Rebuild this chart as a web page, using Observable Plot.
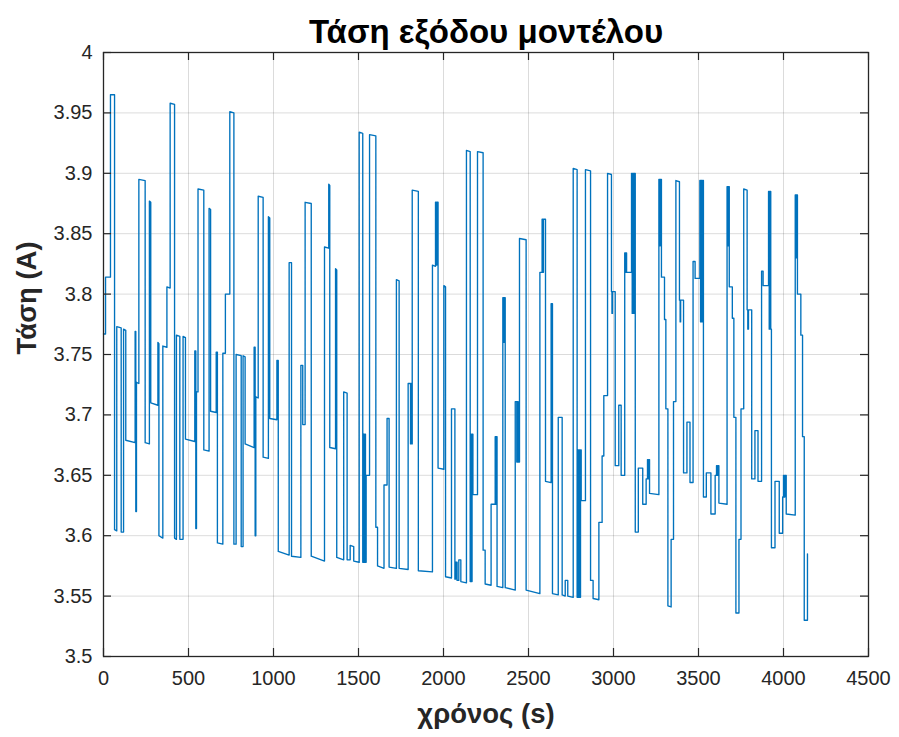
<!DOCTYPE html>
<html>
<head>
<meta charset="utf-8">
<script src="https://cdn.jsdelivr.net/npm/d3@7"></script>
<script src="https://cdn.jsdelivr.net/npm/@observablehq/plot@0.6"></script>
<style>
  html, body { margin: 0; padding: 0; background: #fff; }
</style>
</head>
<body>
<div id="chart"></div>
<script>
const titleText = "Τάση εξόδου μοντέλου";
const xLabelText = "χρόνος (s)";
const yLabelText = "Τάση (A)";

const xTicks = [0, 500, 1000, 1500, 2000, 2500, 3000, 3500, 4000, 4500];
const xTickLabels = ["0", "500", "1000", "1500", "2000", "2500", "3000", "3500", "4000", "4500"];
const yTicks = [3.5, 3.55, 3.6, 3.65, 3.7, 3.75, 3.8, 3.85, 3.9, 3.95, 4];
const yTickLabels = ["3.5", "3.55", "3.6", "3.65", "3.7", "3.75", "3.8", "3.85", "3.9", "3.95", "4"];

// [time (s), voltage] samples
const samples = [
[0,3.767],[12,3.767],[12,3.814],[41,3.814],[41,3.965],[65,3.965],[65,3.605],[78,3.604],[78,3.773],[104,3.772],[104,3.603],[118,3.603],[118,3.771],[131,3.770],[131,3.679],[186,3.677],[186,3.769],[190,3.769],[190,3.620],[194,3.620],[194,3.727],[208,3.726],[208,3.895],[245,3.894],[245,3.677],[270,3.676],[270,3.877],[278,3.876],[278,3.710],[320,3.708],[320,3.760],[326,3.759],[326,3.600],[349,3.598],[349,3.757],[373,3.756],[373,3.806],[392,3.805],[392,3.958],[418,3.957],[418,3.598],[429,3.597],[429,3.766],[449,3.765],[449,3.597],[468,3.597],[468,3.765],[482,3.764],[482,3.680],[537,3.678],[537,3.753],[543,3.753],[543,3.606],[547,3.606],[547,3.719],[556,3.719],[556,3.887],[590,3.886],[590,3.671],[621,3.670],[621,3.871],[630,3.870],[630,3.703],[663,3.702],[663,3.752],[670,3.752],[670,3.594],[702,3.593],[702,3.751],[717,3.751],[717,3.800],[743,3.800],[743,3.951],[767,3.950],[767,3.593],[780,3.593],[780,3.750],[810,3.749],[810,3.591],[821,3.591],[821,3.749],[833,3.748],[833,3.676],[886,3.673],[886,3.756],[892,3.756],[892,3.600],[896,3.600],[896,3.715],[910,3.714],[910,3.881],[939,3.880],[939,3.665],[970,3.664],[970,3.864],[978,3.863],[978,3.697],[1020,3.696],[1020,3.745],[1028,3.745],[1028,3.587],[1092,3.584],[1092,3.826],[1106,3.826],[1106,3.583],[1161,3.582],[1161,3.741],[1172,3.741],[1172,3.692],[1186,3.692],[1186,3.876],[1222,3.875],[1222,3.583],[1300,3.579],[1300,3.839],[1325,3.838],[1325,3.891],[1331,3.890],[1331,3.673],[1365,3.672],[1365,3.821],[1372,3.820],[1372,3.582],[1413,3.580],[1413,3.719],[1433,3.718],[1433,3.580],[1451,3.580],[1451,3.592],[1472,3.591],[1472,3.579],[1504,3.578],[1504,3.934],[1525,3.933],[1525,3.578],[1529,3.578],[1529,3.684],[1533,3.684],[1533,3.578],[1537,3.578],[1537,3.684],[1541,3.684],[1541,3.578],[1545,3.578],[1545,3.650],[1565,3.650],[1565,3.932],[1602,3.931],[1602,3.607],[1612,3.607],[1612,3.575],[1650,3.573],[1650,3.642],[1668,3.642],[1668,3.697],[1680,3.697],[1680,3.574],[1723,3.573],[1723,3.812],[1739,3.811],[1739,3.573],[1792,3.572],[1792,3.726],[1806,3.726],[1806,3.676],[1810,3.676],[1810,3.726],[1813,3.726],[1813,3.676],[1816,3.676],[1816,3.886],[1852,3.885],[1852,3.571],[1935,3.570],[1935,3.824],[1953,3.823],[1953,3.876],[1957,3.876],[1957,3.824],[1961,3.824],[1961,3.876],[1968,3.876],[1968,3.656],[2002,3.655],[2002,3.807],[2012,3.806],[2012,3.566],[2047,3.565],[2047,3.705],[2067,3.705],[2067,3.564],[2072,3.564],[2072,3.578],[2080,3.578],[2080,3.563],[2090,3.563],[2090,3.580],[2102,3.580],[2102,3.562],[2135,3.561],[2135,3.919],[2157,3.918],[2157,3.562],[2160,3.562],[2160,3.684],[2164,3.684],[2164,3.562],[2168,3.562],[2168,3.684],[2173,3.684],[2173,3.634],[2200,3.634],[2200,3.918],[2233,3.917],[2233,3.588],[2245,3.588],[2245,3.560],[2280,3.559],[2280,3.626],[2304,3.626],[2304,3.682],[2308,3.682],[2308,3.626],[2311,3.626],[2311,3.682],[2315,3.682],[2315,3.558],[2349,3.557],[2349,3.797],[2354,3.797],[2354,3.760],[2357,3.760],[2357,3.797],[2363,3.797],[2363,3.557],[2422,3.555],[2422,3.711],[2431,3.711],[2431,3.661],[2435,3.661],[2435,3.711],[2439,3.711],[2439,3.661],[2447,3.661],[2447,3.846],[2486,3.845],[2486,3.555],[2567,3.552],[2567,3.818],[2580,3.818],[2580,3.862],[2584,3.862],[2584,3.818],[2588,3.818],[2588,3.862],[2600,3.862],[2600,3.645],[2633,3.644],[2633,3.792],[2636,3.792],[2636,3.750],[2638,3.750],[2638,3.792],[2641,3.792],[2641,3.552],[2675,3.551],[2675,3.698],[2698,3.698],[2698,3.551],[2716,3.550],[2716,3.563],[2731,3.563],[2731,3.550],[2763,3.549],[2763,3.904],[2786,3.903],[2786,3.549],[2790,3.549],[2790,3.671],[2794,3.671],[2794,3.549],[2798,3.549],[2798,3.671],[2802,3.671],[2802,3.549],[2806,3.549],[2806,3.671],[2810,3.671],[2810,3.629],[2835,3.629],[2835,3.903],[2865,3.902],[2865,3.563],[2880,3.563],[2880,3.548],[2914,3.547],[2914,3.611],[2933,3.611],[2933,3.666],[2943,3.666],[2943,3.716],[2965,3.716],[2965,3.900],[2988,3.899],[2988,3.802],[2991,3.802],[2991,3.784],[2994,3.784],[2994,3.802],[3010,3.802],[3010,3.658],[3031,3.658],[3031,3.708],[3045,3.708],[3045,3.650],[3066,3.650],[3066,3.834],[3070,3.834],[3070,3.818],[3073,3.818],[3073,3.834],[3077,3.834],[3077,3.818],[3106,3.818],[3106,3.900],[3110,3.900],[3110,3.784],[3114,3.784],[3114,3.900],[3118,3.900],[3118,3.784],[3122,3.784],[3122,3.900],[3128,3.900],[3128,3.603],[3146,3.603],[3146,3.656],[3172,3.656],[3172,3.626],[3192,3.626],[3192,3.647],[3200,3.647],[3200,3.663],[3204,3.663],[3204,3.647],[3208,3.647],[3208,3.663],[3212,3.663],[3212,3.635],[3267,3.634],[3267,3.895],[3272,3.895],[3272,3.840],[3275,3.840],[3275,3.895],[3282,3.895],[3282,3.814],[3300,3.814],[3300,3.779],[3308,3.779],[3308,3.705],[3320,3.705],[3320,3.542],[3339,3.541],[3339,3.597],[3353,3.597],[3353,3.711],[3367,3.711],[3367,3.894],[3388,3.893],[3388,3.795],[3392,3.795],[3392,3.777],[3395,3.777],[3395,3.795],[3412,3.795],[3412,3.652],[3432,3.652],[3432,3.694],[3450,3.694],[3450,3.644],[3468,3.644],[3468,3.827],[3480,3.827],[3480,3.813],[3508,3.813],[3508,3.894],[3512,3.894],[3512,3.777],[3516,3.777],[3516,3.894],[3520,3.894],[3520,3.777],[3524,3.777],[3524,3.894],[3529,3.894],[3529,3.632],[3546,3.632],[3546,3.652],[3573,3.652],[3573,3.618],[3598,3.618],[3598,3.650],[3606,3.650],[3606,3.658],[3610,3.658],[3610,3.650],[3614,3.650],[3614,3.658],[3620,3.658],[3620,3.627],[3668,3.626],[3668,3.889],[3672,3.889],[3672,3.840],[3675,3.840],[3675,3.889],[3681,3.889],[3681,3.806],[3699,3.806],[3699,3.780],[3708,3.780],[3708,3.698],[3720,3.698],[3720,3.536],[3738,3.536],[3738,3.597],[3750,3.597],[3750,3.705],[3766,3.705],[3766,3.887],[3786,3.886],[3786,3.787],[3790,3.787],[3790,3.771],[3794,3.771],[3794,3.787],[3813,3.787],[3813,3.647],[3832,3.647],[3832,3.687],[3850,3.687],[3850,3.645],[3871,3.645],[3871,3.819],[3880,3.819],[3880,3.807],[3912,3.807],[3912,3.885],[3916,3.885],[3916,3.771],[3920,3.771],[3920,3.885],[3925,3.885],[3925,3.771],[3929,3.771],[3929,3.590],[3950,3.590],[3950,3.645],[3975,3.645],[3975,3.602],[3995,3.602],[3995,3.632],[4000,3.632],[4000,3.650],[4004,3.650],[4004,3.632],[4008,3.632],[4008,3.650],[4016,3.650],[4016,3.618],[4069,3.617],[4069,3.882],[4073,3.882],[4073,3.830],[4076,3.830],[4076,3.882],[4082,3.882],[4082,3.800],[4102,3.800],[4102,3.766],[4112,3.766],[4112,3.682],[4122,3.682],[4122,3.530],[4141,3.530],[4141,3.585]
];

const W = 899, H = 737;
const mL = 103, mR = 31, mT = 52, mB = 81;
const pw = W - mL - mR, ph = H - mT - mB;
const tickLen = 8;
const ink = "#262626";

const data = samples.map(([t, v]) => ({t, v}));

const chart = Plot.plot({
  width: W,
  height: H,
  marginLeft: mL,
  marginRight: mR,
  marginTop: mT,
  marginBottom: mB,
  style: {fontFamily: "'Liberation Sans', Arial, Helvetica, sans-serif", background: "#fff", color: ink, overflow: "visible"},
  x: {domain: [0, 4500]},
  y: {domain: [3.5, 4]},
  marks: [
    Plot.gridX(xTicks, {stroke: "#000", strokeOpacity: 0.14, strokeWidth: 1}),
    Plot.gridY(yTicks, {stroke: "#000", strokeOpacity: 0.14, strokeWidth: 1}),
    Plot.line(data, {x: "t", y: "v", stroke: "#0072BD", strokeWidth: 1.35}),
    Plot.axisX(xTicks, {tickSize: 0, tickPadding: 14, fontSize: 20, label: null, tickFormat: (d, i) => xTickLabels[i], fill: ink}),
    Plot.axisY(yTicks, {tickSize: 0, tickPadding: 11, fontSize: 20, label: null, tickFormat: (d, i) => yTickLabels[i], fill: ink}),
    Plot.tickY(yTicks, {y: d => d, insetRight: pw - tickLen, stroke: ink, strokeWidth: 1.2}),
    Plot.tickY(yTicks, {y: d => d, insetLeft: pw - tickLen, stroke: ink, strokeWidth: 1.2}),
    Plot.tickX(xTicks, {x: d => d, insetTop: ph - tickLen, stroke: ink, strokeWidth: 1.2}),
    Plot.tickX(xTicks, {x: d => d, insetBottom: ph - tickLen, stroke: ink, strokeWidth: 1.2}),
    Plot.frame({stroke: ink, strokeWidth: 1.3}),
    Plot.text([titleText], {frameAnchor: "top", dy: -33, fontSize: 33, fontWeight: "bold", fill: "#000"}),
    Plot.text([xLabelText], {frameAnchor: "bottom", dy: 66, fontSize: 27.5, fontWeight: "bold", fill: ink}),
    Plot.text([yLabelText], {frameAnchor: "left", dx: -76, rotate: -90, fontSize: 27.5, fontWeight: "bold", fill: ink})
  ]
});

document.getElementById("chart").appendChild(chart);
</script>
</body>
</html>
